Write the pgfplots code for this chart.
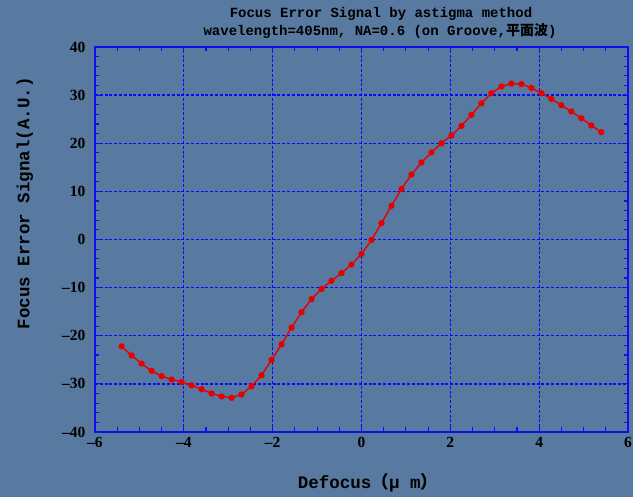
\documentclass[border=0pt]{standalone}
\usepackage{fontspec}
\setmainfont{Liberation Serif}
\newfontfamily\monof{Liberation Mono}
\newfontfamily\cjk{Noto Sans CJK SC}
\usepackage{pgfplots}
\pgfplotsset{compat=1.18}
\definecolor{bg}{RGB}{88,121,160}
\definecolor{axblue}{RGB}{15,15,235}
\definecolor{gridblue}{RGB}{10,10,250}
\definecolor{plred}{RGB}{230,0,0}

\begin{document}
\begin{tikzpicture}[x=1pt,y=1pt]
\fill[bg] (-95,-65) rectangle (538,432);
\path[use as bounding box] (-95,-65) rectangle (538,432);
\begin{axis}[
    at={(0,0)}, anchor=south west,
    scale only axis, width=533pt, height=385pt,
    xmin=-6, xmax=6, ymin=-40, ymax=40,
    xtick={-6,-4,...,6}, ytick={-40,-30,...,40},
    xticklabels={--6,--4,--2,0,2,4,6},
    yticklabels={--40,--30,--20,--10,0,10,20,30,40},
    minor x tick num=3, minor y tick num=4,
    tick align=inside,
    major tick length=6pt, minor tick length=4.5pt,
    axis line style={axblue, line width=1.8pt},
    every tick/.style={axblue, line width=1.1pt},
    grid=major,
    major grid style={gridblue, line width=1.3pt, dash pattern=on 3pt off 1.8pt},
    ticklabel style={font=\fontsize{15.5}{15.5}\selectfont\bfseries},
    xticklabel style={yshift=-2pt},
    yticklabel style={xshift=-6pt},
  ]
\addplot[plred, line width=1.4pt, mark=*, mark size=2.4pt, mark options={fill=plred, draw=plred}] coordinates {
(-5.4,-22.2) (-5.175,-24.1) (-4.95,-25.8) (-4.725,-27.3) (-4.5,-28.4)
(-4.275,-29.1) (-4.05,-29.6) (-3.825,-30.3) (-3.6,-31.1) (-3.375,-32.0)
(-3.15,-32.6) (-2.925,-32.9) (-2.7,-32.2) (-2.475,-30.5) (-2.25,-28.2)
(-2.025,-25.0) (-1.8,-21.8) (-1.575,-18.3) (-1.35,-15.1) (-1.125,-12.4)
(-0.9,-10.3) (-0.675,-8.6) (-0.45,-7.0) (-0.225,-5.2) (0,-3.0)
(0.225,-0.1) (0.45,3.4) (0.675,7.0) (0.9,10.5) (1.125,13.5)
(1.35,16.0) (1.575,18.1) (1.8,20.0) (2.025,21.6) (2.25,23.6)
(2.475,25.9) (2.7,28.3) (2.925,30.4) (3.15,31.8) (3.375,32.4)
(3.6,32.3) (3.825,31.5) (4.05,30.4) (4.275,29.2) (4.5,27.9)
(4.725,26.6) (4.95,25.2) (5.175,23.7) (5.4,22.3)
};
\end{axis}
% titles and axis labels
\node[font=\monof\bfseries\fontsize{14}{14}\selectfont] at (286,418) {Focus Error Signal by astigma method};
\node[font=\monof\bfseries\fontsize{14}{14}\selectfont] at (285,401) {wavelength=405nm, NA=0.6 (on Groove,{\cjk 平面波})};
\node[font=\monof\bfseries\fontsize{17.5}{17.5}\selectfont, rotate=90] at (-70,229) {Focus Error Signal(A.U.)};
\node[font=\monof\bfseries\fontsize{17.5}{17.5}\selectfont] at (273,-51) {Defocus{\cjk （}μ m{\cjk ）}};
\end{tikzpicture}
\end{document}
